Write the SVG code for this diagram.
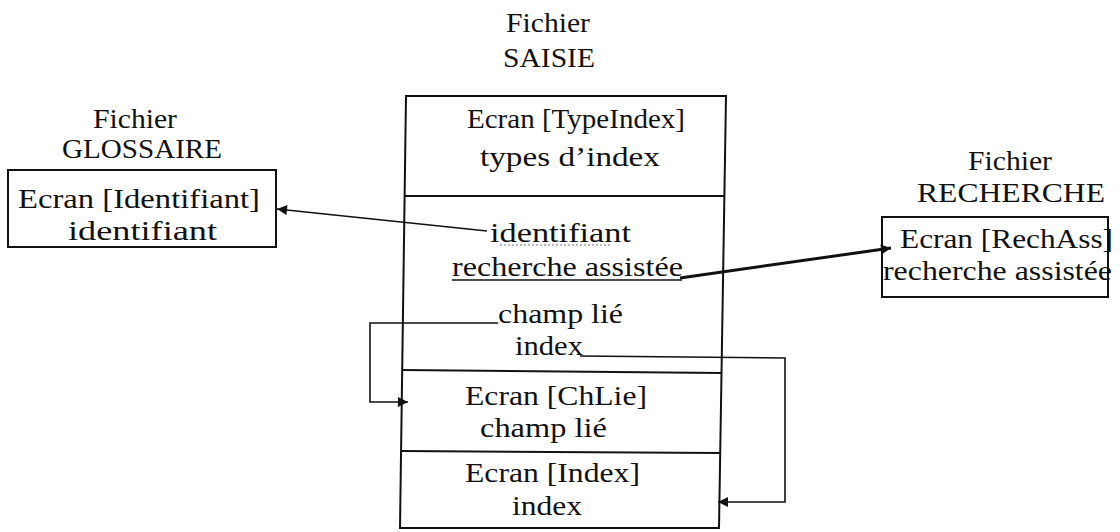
<svg xmlns="http://www.w3.org/2000/svg" width="1120" height="532" viewBox="0 0 1120 532">
  <defs>
    <style>
      text { font-family: "Liberation Serif", "Times New Roman", serif; font-size: 28px; fill: #111; }
      .box { fill: none; stroke: #111; stroke-width: 2; }
      .div { stroke: #111; stroke-width: 2; fill: none; }
      .link { fill: none; stroke: #111; stroke-width: 1.6; }
      .link-bold { fill: none; stroke: #111; stroke-width: 3; }
      .uline { stroke: #111; stroke-width: 1.4; }
      .dots { stroke: #777; stroke-width: 1.2; stroke-dasharray: 2 2; }
    </style>
    <marker id="arrow" viewBox="0 0 10 10" refX="10" refY="5" markerWidth="12" markerHeight="10" markerUnits="userSpaceOnUse" orient="auto">
      <path d="M0,0 L10,5 L0,10 Z" fill="#111"/>
    </marker>
  </defs>

  <rect width="1120" height="532" fill="#fff"/>

  <!-- GLOSSAIRE file -->
  <g id="glossaire">
    <text x="93" y="128" textLength="84" lengthAdjust="spacingAndGlyphs">Fichier</text>
    <text x="62" y="158" textLength="160" lengthAdjust="spacingAndGlyphs">GLOSSAIRE</text>
    <rect class="box" x="8" y="170" width="268" height="77"/>
    <text x="18" y="208" textLength="242" lengthAdjust="spacingAndGlyphs">Ecran [Identifiant]</text>
    <text x="68" y="240" textLength="149" lengthAdjust="spacingAndGlyphs">identifiant</text>
  </g>

  <!-- SAISIE file -->
  <g id="saisie">
    <text x="506" y="32" textLength="84" lengthAdjust="spacingAndGlyphs">Fichier</text>
    <text x="503" y="67" textLength="92" lengthAdjust="spacingAndGlyphs">SAISIE</text>
    <polygon class="box" points="406,96 726,96 719,528 400,528"/>
    <line class="div" x1="405" y1="196" x2="725" y2="196"/>
    <line class="div" x1="402" y1="370" x2="722" y2="373"/>
    <line class="div" x1="401" y1="451" x2="721" y2="453"/>

    <g id="typeindex">
      <text x="467" y="128" textLength="218" lengthAdjust="spacingAndGlyphs">Ecran [TypeIndex]</text>
      <text x="480" y="166" textLength="180" lengthAdjust="spacingAndGlyphs">types d’index</text>
    </g>

    <g id="champs">
      <text x="490" y="242" textLength="141" lengthAdjust="spacingAndGlyphs">identifiant</text>
      <line class="dots" x1="500" y1="245" x2="610" y2="245"/>
      <text x="452" y="276" textLength="231" lengthAdjust="spacingAndGlyphs">recherche assistée</text>
      <line class="uline" x1="452" y1="280" x2="682" y2="280"/>
      <text x="498" y="323" textLength="125" lengthAdjust="spacingAndGlyphs">champ lié</text>
      <text x="515" y="355" textLength="68" lengthAdjust="spacingAndGlyphs">index</text>
    </g>

    <g id="chlie">
      <text x="465" y="405" textLength="182" lengthAdjust="spacingAndGlyphs">Ecran [ChLie]</text>
      <text x="480" y="437" textLength="127" lengthAdjust="spacingAndGlyphs">champ lié</text>
    </g>

    <g id="index">
      <text x="465" y="482" textLength="175" lengthAdjust="spacingAndGlyphs">Ecran [Index]</text>
      <text x="512" y="515" textLength="70" lengthAdjust="spacingAndGlyphs">index</text>
    </g>
  </g>

  <!-- RECHERCHE file -->
  <g id="recherche">
    <text x="968" y="170" textLength="84" lengthAdjust="spacingAndGlyphs">Fichier</text>
    <text x="917" y="202" textLength="188" lengthAdjust="spacingAndGlyphs">RECHERCHE</text>
    <rect class="box" x="882" y="217" width="226" height="80"/>
    <text x="900" y="248" textLength="213" lengthAdjust="spacingAndGlyphs">Ecran [RechAss]</text>
    <text x="883" y="280" textLength="229" lengthAdjust="spacingAndGlyphs">recherche assistée</text>
  </g>

  <!-- connectors -->
  <g id="connectors">
    <path class="link" d="M487,231 L277,209" marker-end="url(#arrow)"/>
    <path class="link-bold" d="M680,278 L891,248" marker-end="url(#arrow)"/>
    <path class="link" d="M498,323 L370,323 L370,402 L408,402" marker-end="url(#arrow)"/>
    <path class="link" d="M580,356 L785,358 L785,502 L718,502" marker-end="url(#arrow)"/>
  </g>
</svg>
